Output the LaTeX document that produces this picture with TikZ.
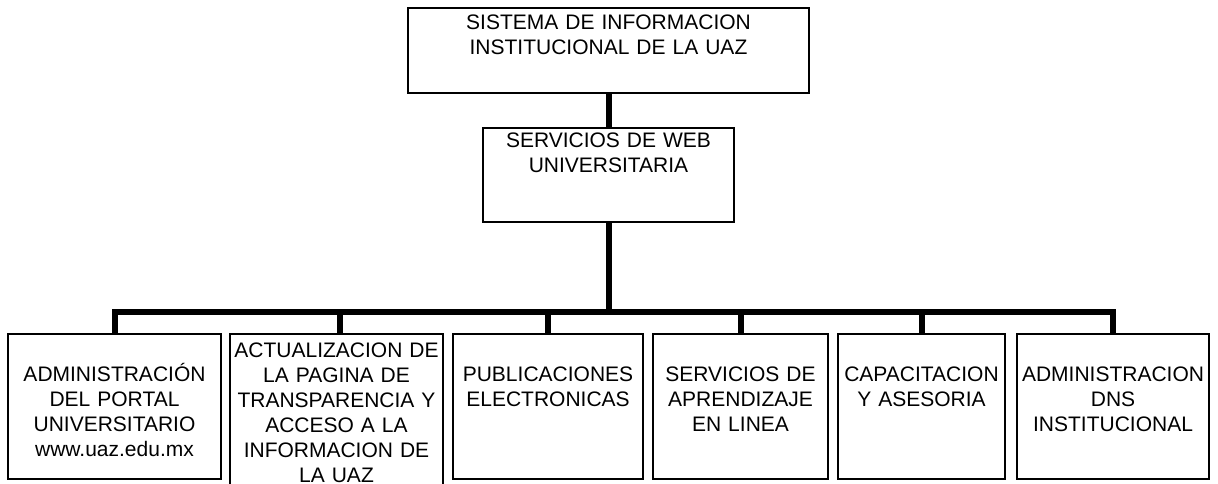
\documentclass[tikz,border=0pt]{standalone}
\usepackage{fontspec}
\setmainfont{Liberation Sans}
\usepackage{tikz}
\usetikzlibrary{positioning}
\tikzset{
  box/.style={rectangle, draw=black, line width=0.8pt, inner sep=0pt},
  boxtxt/.style={inner sep=0pt, text width=220pt, align=center, text height=11.3pt,
    font={\fontsize{15.75}{18.75}\selectfont}},
  conn/.style={line width=4.5pt, color=black}
}
\begin{document}
\begin{tikzpicture}[x=0.75pt, y=0.75pt]
  \useasboundingbox (0,0) rectangle (1218,484);

  % Upper levels
  \node[box, minimum width=300.75pt, minimum height=63.75pt] (sis) at (608.5,433.5) {};
  \node[boxtxt, below=5.25pt of sis.north] (tsis) {SISTEMA DE INFORMACION\\INSTITUCIONAL DE LA UAZ};
  \node[box, minimum width=188.25pt, minimum height=70.5pt] (web) at (608.5,309) {};
  \node[boxtxt, below=3.75pt of web.north] (tweb) {SERVICIOS DE WEB\\UNIVERSITARIA};

  % Areas under the web services
  \node[box, minimum width=159.75pt, minimum height=108.75pt] (adm) at (114.5,77.5) {};
  \node[box, minimum width=159.75pt, minimum height=118.5pt] (tra) at (336.5,71) {};
  \node[box, minimum width=142.5pt, minimum height=108.75pt] (pub) at (548,77.5) {};
  \node[box, minimum width=131.25pt, minimum height=108.75pt] (apr) at (740.5,77.5) {};
  \node[box, minimum width=125.25pt, minimum height=108.75pt] (cap) at (921.5,77.5) {};
  \node[box, minimum width=144pt, minimum height=108.75pt] (dns) at (1113,77.5) {};

  \node[boxtxt, below=24.75pt of adm.north] (tadm) {ADMINISTRACIÓN\\DEL PORTAL\\UNIVERSITARIO\\www.uaz.edu.mx};
  \node[boxtxt, below=6.75pt of tra.north] (ttra) {ACTUALIZACION DE\\LA PAGINA DE\\TRANSPARENCIA Y\\ACCESO A LA\\INFORMACION DE\\LA UAZ};
  \node[boxtxt, below=24.75pt of pub.north] (tpub) {PUBLICACIONES\\ELECTRONICAS};
  \node[boxtxt, below=24.75pt of apr.north] (tapr) {SERVICIOS DE\\APRENDIZAJE\\EN LINEA};
  \node[boxtxt, below=24.75pt of cap.north] (tcap) {CAPACITACION\\Y ASESORIA};
  \node[boxtxt, below=24.75pt of dns.north] (tdns) {ADMINISTRACION\\DNS\\INSTITUCIONAL};

  % Connectors
  \coordinate (hub) at (608.5,172);
  \draw[conn] (sis.south) -- (web.north);
  \draw[conn] (web.south) -- (hub);
  \draw[conn] (hub) -| (adm.north);
  \draw[conn] (hub) -| ([xshift=2.6pt]tra.north);
  \draw[conn] (hub) -| (pub.north);
  \draw[conn] (hub) -| (apr.north);
  \draw[conn] (hub) -| (cap.north);
  \draw[conn] (hub) -| (dns.north);
\end{tikzpicture}
\end{document}
